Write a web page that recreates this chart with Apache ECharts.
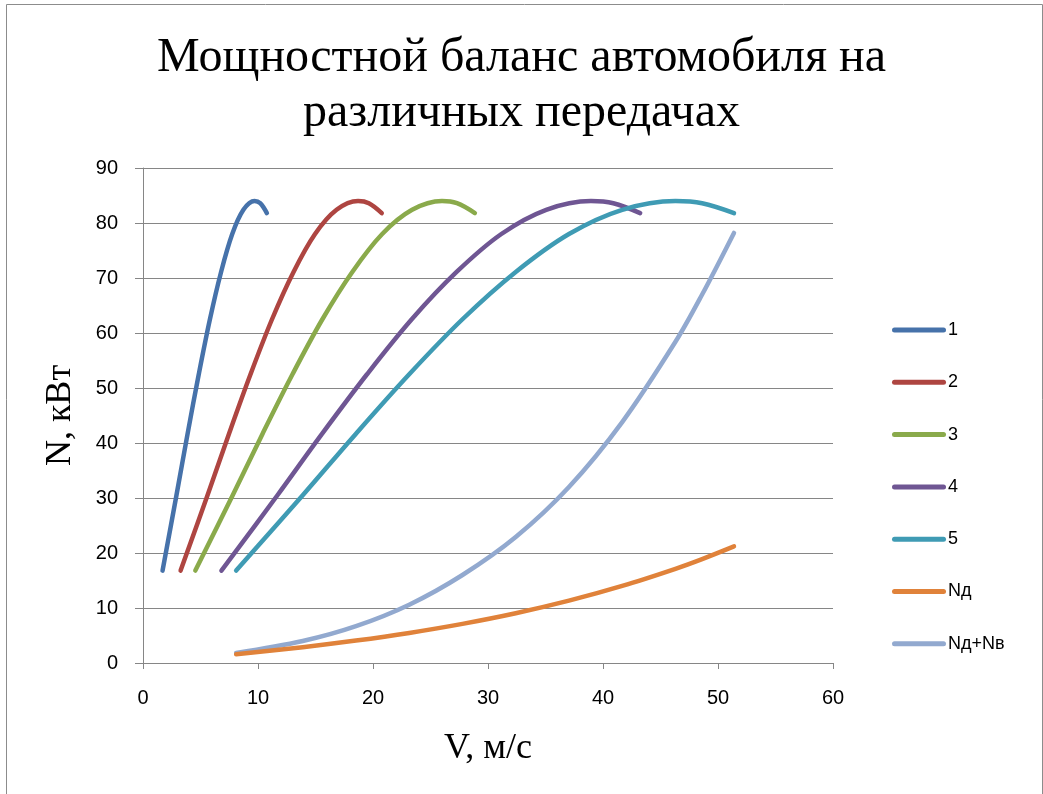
<!DOCTYPE html>
<html>
<head>
<meta charset="utf-8">
<script src="https://cdn.jsdelivr.net/npm/echarts@6/dist/echarts.min.js"></script>
<style>html,body{margin:0;padding:0;background:#fff}#c{width:1043px;height:794px}</style>
</head>
<body>
<div id="c"></div>
<script>
// Series names
var seriesNames = ['1', '2', '3', '4', '5', 'Nд', 'Nд+Nв'];
// Engine power at the sampled engine speeds (same for every gear), kW
var engineN = [16.8, 30.5, 41.7, 52.5, 62.5, 71.1, 78.0, 82.4, 84.0, 83.6, 81.8];
// Vehicle speed at those engine speeds, per gear, m/s
var v1 = [1.70, 2.91, 3.88, 4.85, 5.82, 6.79, 7.76, 8.73, 9.70, 10.19, 10.77];
var v2 = [3.27, 5.61, 7.48, 9.35, 11.22, 13.09, 14.96, 16.83, 18.70, 19.64, 20.76];
var v3 = [4.55, 7.80, 10.40, 13.00, 15.60, 18.20, 20.80, 23.40, 26.00, 27.30, 28.86];
var v4 = [6.82, 11.69, 15.58, 19.48, 23.37, 27.27, 31.16, 35.06, 38.95, 40.90, 43.23];
var v5 = [8.10, 13.89, 18.52, 23.15, 27.78, 32.41, 37.04, 41.67, 46.30, 48.62, 51.39];
// Resistance power (read at the 5th-gear speeds)
var nD  = [1.60, 2.88, 4.08, 5.47, 7.11, 9.04, 11.33, 14.01, 17.13, 18.89, 21.2];
var nDV = [1.82, 4.0, 6.7, 10.6, 16.0, 22.9, 32.0, 43.8, 58.4, 67.0, 78.2];
// Axis ticks
var xTicks = [0, 10, 20, 30, 40, 50, 60];
var yTicks = [0, 10, 20, 30, 40, 50, 60, 70, 80, 90];

var colors = ['#4672AA', '#AE4541', '#8AAA4B', '#6F5693', '#3F9BB4', '#E0823A', '#92A9CF'];

function pair(xs, ys) { return xs.map(function (x, i) { return [x, ys[i]]; }); }
var datasets = [
  pair(v1, engineN), pair(v2, engineN), pair(v3, engineN), pair(v4, engineN), pair(v5, engineN),
  pair(v5, nD), pair(v5, nDV)
];

var chart = echarts.init(document.getElementById('c'));
var axisGray = '#868686';
chart.setOption({
  animation: false,
  backgroundColor: '#fff',
  color: colors,
  title: {
    text: 'Мощностной баланс автомобиля на\nразличных передачах',
    left: 'center',
    top: 26,
    textStyle: { fontFamily: 'Liberation Serif', fontSize: 48, fontWeight: 'normal', color: '#000', lineHeight: 55 }
  },
  legend: {
    orient: 'vertical',
    left: 887,
    top: 316,
    itemWidth: 54,
    itemHeight: 14,
    itemGap: 34.3,
    data: seriesNames.map(function (n) { return { name: n, icon: 'path://M2.5,0 L51.5,0 A2.5,2.5 0 0 1 51.5,5 L2.5,5 A2.5,2.5 0 0 1 2.5,0 Z' }; }),
    textStyle: { fontFamily: 'Liberation Sans', fontSize: 18, color: '#000', padding: [0, 0, 0, -3] }
  },
  grid: { left: 143, right: 210, top: 168, bottom: 131, containLabel: false },
  xAxis: {
    type: 'value', min: xTicks[0], max: xTicks[xTicks.length - 1], interval: 10,
    name: 'V, м/с', nameLocation: 'middle', nameGap: 68,
    nameTextStyle: { fontFamily: 'Liberation Serif', fontSize: 36, color: '#000' },
    axisLine: { show: true, lineStyle: { color: axisGray, width: 1 } },
    axisTick: { show: true, length: 6, lineStyle: { color: axisGray } },
    axisLabel: { fontFamily: 'Liberation Sans', fontSize: 20, color: '#000', margin: 25 },
    splitLine: { show: false }
  },
  yAxis: {
    type: 'value', min: yTicks[0], max: yTicks[yTicks.length - 1], interval: 10,
    name: 'N, кВт', nameLocation: 'middle', nameGap: 64, nameRotate: 90,
    nameTextStyle: { fontFamily: 'Liberation Serif', fontSize: 36, color: '#000' },
    axisLine: { show: true, lineStyle: { color: axisGray, width: 1 } },
    axisTick: { show: true, length: 8, lineStyle: { color: axisGray } },
    axisLabel: { fontFamily: 'Liberation Sans', fontSize: 20, color: '#000', margin: 25 },
    splitLine: { show: true, lineStyle: { color: axisGray, width: 1 } }
  },
  graphic: [{
    type: 'rect', left: 4, top: 2, shape: { width: 1036, height: 810 },
    style: { fill: 'none', stroke: '#8c8c8c', lineWidth: 1 }, silent: true, z: -1
  }],
  series: datasets.map(function (d, i) {
    return {
      name: seriesNames[i], type: 'line', data: d, smooth: 0.35,
      symbol: 'none', showSymbol: false,
      lineStyle: { width: 4.5, color: colors[i], cap: 'round', join: 'round' },
      itemStyle: { color: colors[i] },
      z: i === 6 ? 1 : 2
    };
  })
});
</script>
</body>
</html>
